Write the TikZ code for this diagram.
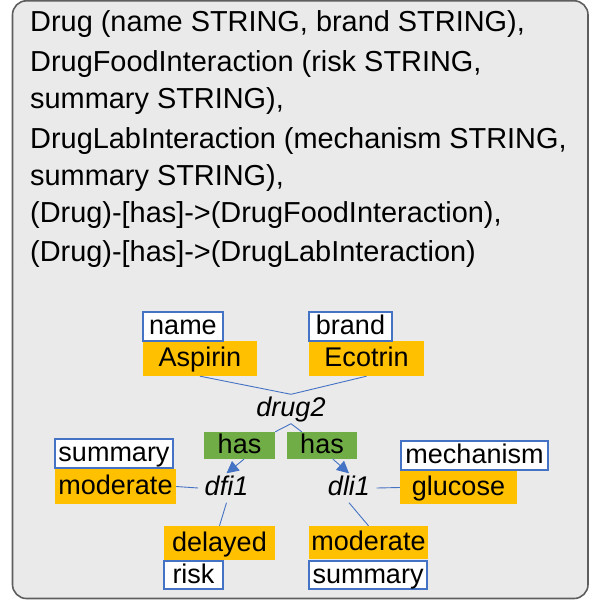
\documentclass[tikz,border=0pt]{standalone}
\usepackage{fontspec}
\setmainfont{Liberation Sans}
\usetikzlibrary{arrows.meta,calc}
\definecolor{kblue}{HTML}{4472C4}
\definecolor{vorange}{HTML}{FFC000}
\definecolor{rgreen}{HTML}{70AD47}
\definecolor{framefill}{HTML}{EAEAEA}
\definecolor{framedraw}{HTML}{5E5E5E}
\newcommand{\toptxt}{\fontsize{28.9}{34}\selectfont}
\newcommand{\diagtxt}{\fontsize{27}{30}\selectfont}
\tikzset{
  frame/.style={draw=framedraw, fill=framefill, line width=1.6pt, rounded corners=14pt},
  schema/.style={anchor=base west, inner sep=0pt, font=\toptxt, text=black},
  basebox/.style={inner sep=0pt, font=\diagtxt, text height=20pt, text depth=4pt, text=black},
  keybox/.style={basebox, draw=kblue, fill=white, line width=1.4pt},
  valbox/.style={basebox, fill=vorange},
  relbox/.style={basebox, fill=rgreen},
  var/.style={inner xsep=6.5pt, inner ysep=1.5pt, font=\diagtxt\itshape, text height=20pt, text depth=6pt},
  conn/.style={draw=kblue, line width=0.9pt},
  arr/.style={conn, -{Triangle[length=12pt,width=12pt]}, shorten >=0pt}
}
\begin{document}
\begin{tikzpicture}[x=1pt,y=-1pt]
\useasboundingbox (0,0) rectangle (595,601);
\draw[frame] (12.5,0.8) rectangle (588,598.5);

\node[schema] (t1) at (30,32) {Drug (name STRING, brand STRING),};
\node[schema] (t2) at (30,72) {DrugFoodInteraction (risk STRING,};
\node[schema] (t3) at (30,109) {summary STRING),};
\node[schema] (t4) at (30,149) {DrugLabInteraction (mechanism STRING,};
\node[schema] (t5) at (30,186) {summary STRING),};
\node[schema] (t6) at (30,223) {(Drug)-[has]->(DrugFoodInteraction),};
\node[schema] (t7) at (30,261) {(Drug)-[has]->(DrugLabInteraction)};

% value boxes
\node[valbox, minimum width=114pt, minimum height=35pt] (aspirin) at (200,358.5) {Aspirin};
\node[valbox, minimum width=115pt, minimum height=35pt] (ecotrin) at (366.5,358.5) {Ecotrin};
\node[valbox, minimum width=121pt, minimum height=35pt] (moderateL) at (115.5,486.5) {moderate};
\node[valbox, minimum width=111pt, minimum height=34pt] (delayed) at (219.5,543) {delayed};
\node[valbox, minimum width=117pt, minimum height=33pt] (glucose) at (458.5,487.5) {glucose};
\node[valbox, minimum width=119pt, minimum height=33pt] (moderateR) at (368.5,542.5) {moderate};

% key boxes
\node[keybox, minimum width=80pt, minimum height=29pt] (name) at (183,326.5) {name};
\node[keybox, minimum width=83pt, minimum height=29pt] (brand) at (350.5,326.5) {brand};
\node[keybox, minimum width=118pt, minimum height=29pt] (summaryL) at (114,453.5) {summary};
\node[keybox, minimum width=59pt, minimum height=28pt] (risk) at (193.5,575) {risk};
\node[keybox, minimum width=147pt, minimum height=29pt] (mechanism) at (474.5,455.5) {mechanism};
\node[keybox, minimum width=118pt, minimum height=28pt] (summaryR) at (368,575) {summary};

% relation boxes
\node[relbox, minimum width=71pt, minimum height=27pt] (hasL) at (239.5,445.5) {has};
\node[relbox, minimum width=70pt, minimum height=27pt] (hasR) at (322,445.5) {has};

% variables
\node[var] (drug2) at (291,409) {drug2};
\node[var] (dfi1) at (226.5,488) {dfi1};
\node[var] (dli1) at (349,488) {dli1};

% connectors
\draw[conn] (aspirin.south) -- (drug2.north);
\draw[conn] (ecotrin.south) -- (drug2.north);
\draw[conn] (drug2.south) -- (hasL.north east);
\draw[conn] (drug2.south) -- ($(hasR.north west)+(15,0)$);
\draw[arr] ($(hasL.south)+(4.5,0)$) -- (dfi1.north);
\draw[arr] ($(hasR.south)+(11,0)$) -- (dli1.north);
\draw[conn] (moderateL.east) -- (dfi1.west);
\draw[conn] (dfi1.south) -- (delayed.north);
\draw[conn] (dli1.east) -- (glucose.west);
\draw[conn] (dli1.south) -- (moderateR.north);
\end{tikzpicture}
\end{document}
